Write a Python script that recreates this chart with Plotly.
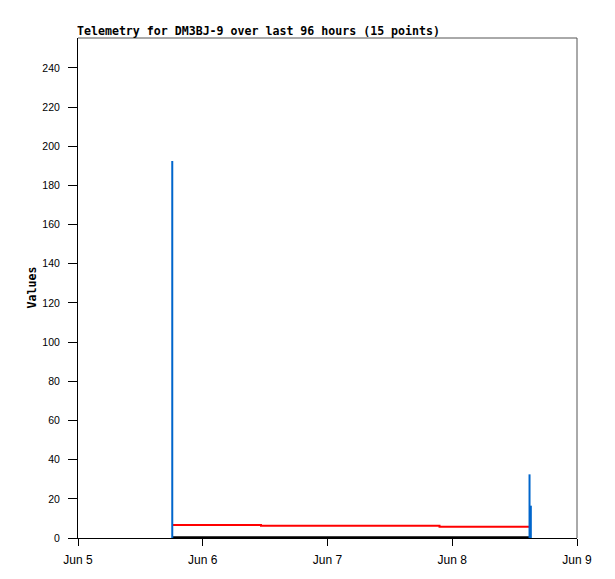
import plotly.graph_objects as go

# Timestamps of the 5 telemetry reports (3 channels each -> 15 points)
times = ["2024-06-05 18:08", "2024-06-06 11:12", "2024-06-07 21:33",
         "2024-06-08 14:52", "2024-06-08 15:07"]
blue_vals = [192.5, 0, 0, 32.5, 16.5]
red_times = times[:4]
red_vals = [6.6, 6.2, 5.8, 5.8]
black_vals = [0.4, 0.4, 0.4, 0.4, 0.4]

y_ticks = list(range(0, 241, 20))
x_ticks = ["2024-06-05", "2024-06-06", "2024-06-07", "2024-06-08", "2024-06-09"]
x_labels = ["Jun 5", "Jun 6", "Jun 7", "Jun 8", "Jun 9"]

fig = go.Figure()

fig.add_trace(go.Scatter(x=times, y=black_vals, mode="lines",
                         line=dict(color="black", width=2), showlegend=False))
fig.add_trace(go.Scatter(x=red_times, y=red_vals, mode="lines", line_shape="hv",
                         line=dict(color="#ff0000", width=2), showlegend=False))

# impulses for blue channel
sx, sy = [], []
for t, v in zip(times, blue_vals):
    if v > 0:
        sx += [t, t, None]
        sy += [0, v, None]
fig.add_trace(go.Scatter(x=sx, y=sy, mode="lines",
                         line=dict(color="#0066cc", width=2), showlegend=False))

L, R, T, B = 70, 46, 30, 49
W, H = 615, 579
pw = W - L - R

fig.update_layout(
    width=W, height=H,
    margin=dict(l=L, r=R, t=T, b=B),
    paper_bgcolor="white", plot_bgcolor="white",
    title=dict(text="Telemetry for DM3BJ-9 over last 96 hours (15 points)",
               x=69 / W, xanchor="left", y=1 - 23 / H, yanchor="middle",
               font=dict(family="DejaVu Sans Mono", size=11.6, color="black",
                         weight="bold")),
    font=dict(family="Liberation Sans", size=11, color="black"),
    shapes=[
        dict(type="line", xref="paper", yref="paper", x0=0, x1=1, y0=1, y1=1,
             line=dict(color="#555555", width=1)),
        dict(type="line", xref="paper", yref="paper", x0=1, x1=1, y0=0, y1=1,
             line=dict(color="#555555", width=1)),
    ],
    annotations=[
        dict(text="<b>Values</b>", xref="paper", yref="paper",
             x=(23.5 - L) / pw, y=0.5, xanchor="center", yanchor="middle",
             textangle=-90, showarrow=False,
             font=dict(family="DejaVu Sans Mono", size=11.6, color="black")),
    ],
)

fig.update_xaxes(
    type="date", range=["2024-06-05", "2024-06-09"],
    tickvals=x_ticks, ticktext=x_labels,
    showgrid=False, zeroline=False, showline=True, linecolor="black", linewidth=1,
    ticks="outside", ticklen=7, tickcolor="black", tickwidth=1,
    ticklabelstandoff=4,
    tickfont=dict(family="Liberation Sans", size=12, color="black"),
)
fig.update_yaxes(
    range=[0, 255.3], tickvals=y_ticks,
    showgrid=False, zeroline=False, showline=True, linecolor="black", linewidth=1,
    ticks="outside", ticklen=9, tickcolor="black", tickwidth=1,
    ticklabelstandoff=6,
    tickfont=dict(family="Liberation Sans", size=10.5, color="black"),
)

fig.write_html("out.html")
